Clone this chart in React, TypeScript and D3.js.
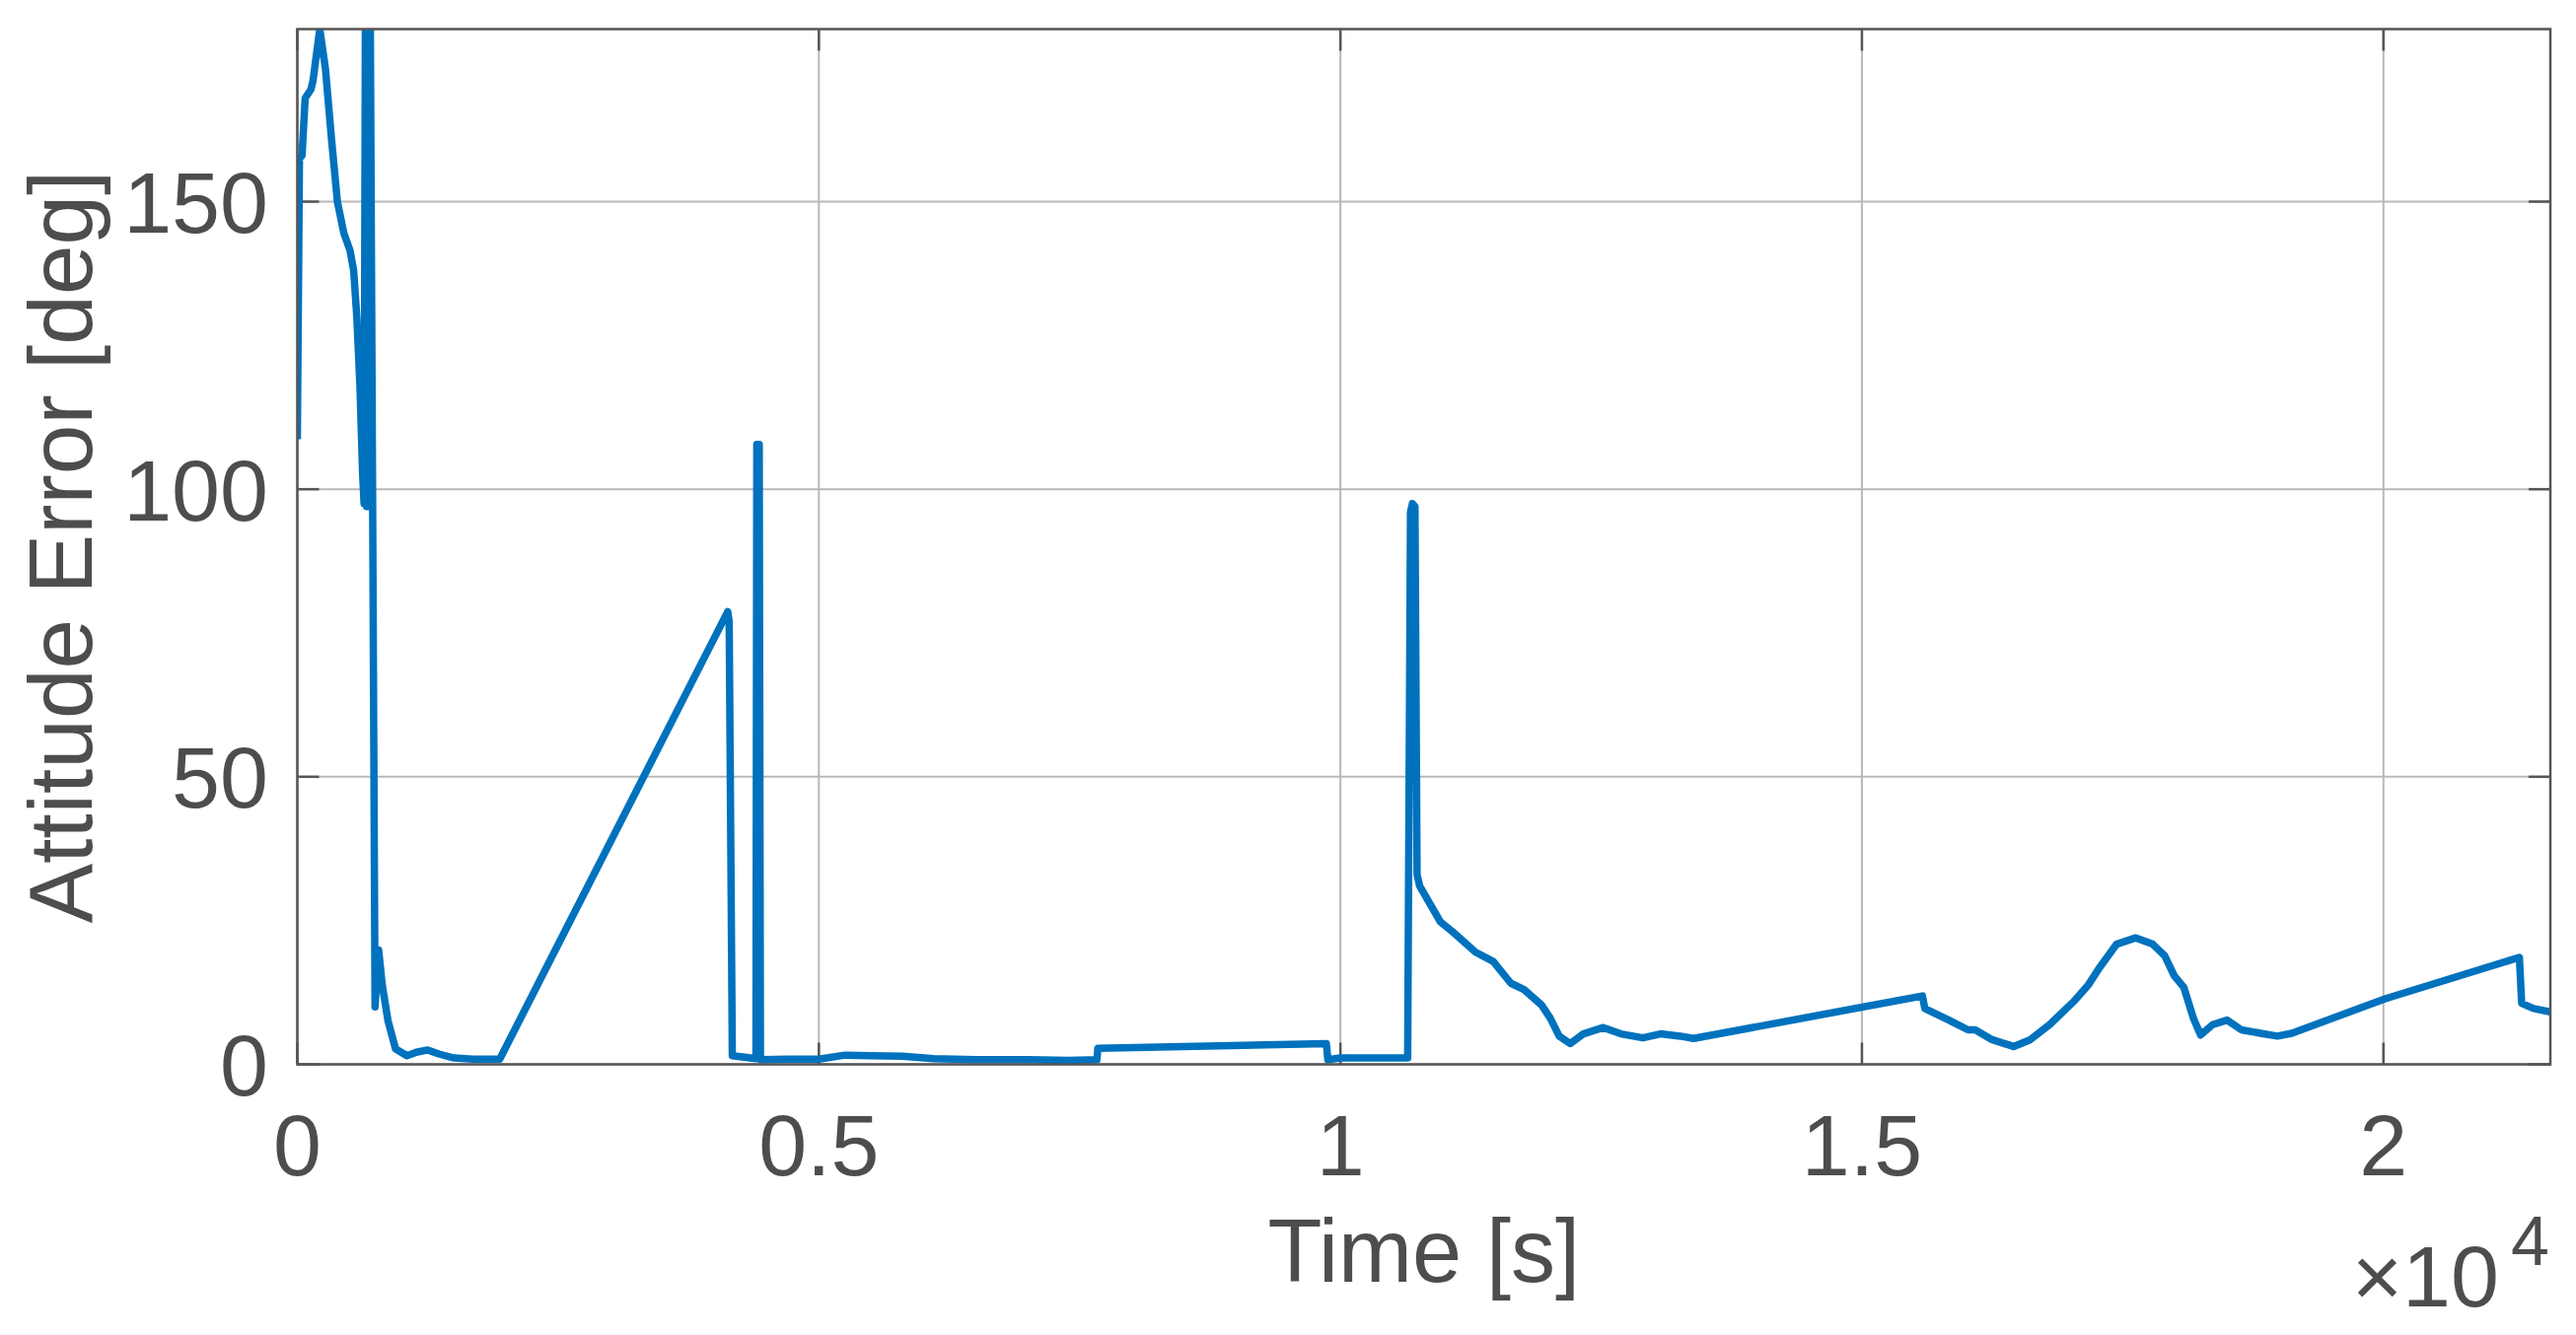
import React from "react";
import * as d3 from "d3";

// ---- data ----
const timeSec: number[] = [
  0, 20, 45, 75, 130, 150, 215, 270, 327, 384, 446, 505, 540, 570, 600, 625,
  640, 652, 664, 676, 688, 700, 745, 779, 815, 869, 941, 1050, 1140, 1250,
  1357, 1502, 1683, 1940, 4126, 4140, 4170, 4397, 4405, 4428, 4440, 4700,
  5000, 5250, 5500, 5800, 6100, 6500, 7000, 7400, 7665, 7675, 9865, 9880,
  10000, 10300, 10645, 10672, 10690, 10715, 10735, 10760, 10958, 11085, 11296,
  11465, 11634, 11760, 11929, 12013, 12098, 12203, 12330, 12520, 12689, 12900,
  13069, 13259, 13386, 15580, 15603, 15833, 16017, 16086, 16247, 16454, 16615,
  16799, 17029, 17166, 17281, 17442, 17626, 17787, 17902, 17994, 18086, 18178,
  18247, 18362, 18500, 18638, 18822, 18983, 19121, 20016, 21303, 21325, 21440,
  21600,
];
const errorDeg: number[] = [
  108.7, 157.5, 158, 168, 169.5, 171, 180, 173, 161, 150, 144.5, 141.5, 138,
  130, 118, 103, 97.5, 180, 97, 180, 97, 180, 10, 19.9, 13.7, 7.6, 2.7, 1.5,
  2.1, 2.5, 1.8, 1.1, 0.9, 0.9, 78.7, 77, 1.5, 1, 107.8, 107.8, 0.8, 0.9, 0.9,
  1.6, 1.5, 1.4, 1.0, 0.8, 0.8, 0.7, 0.8, 2.8, 3.6, 0.8, 1.1, 1.1, 1.1, 96,
  97.5, 97, 33, 31, 24.8, 22.9, 19.5, 17.9, 14.1, 13.0, 10.3, 8.0, 4.9, 3.6,
  5.3, 6.4, 5.3, 4.6, 5.3, 4.9, 4.5, 11.9, 9.7, 7.7, 6.0, 6.0, 4.3, 3.1, 4.3,
  6.9, 10.9, 13.7, 16.9, 20.9, 22.0, 20.9, 18.9, 15.4, 13.4, 8.0, 5.1, 6.9,
  7.7, 6.0, 5.4, 4.9, 5.4, 11.4, 18.6, 10.6, 9.7, 9.1,
];

const xTicks: number[] = [0, 5000, 10000, 15000, 20000];
const xTickLabels: string[] = ["0", "0.5", "1", "1.5", "2"];
const yTicks: number[] = [0, 50, 100, 150];
const yTickLabels: string[] = ["0", "50", "100", "150"];

const xLabel = "Time [s]";
const yLabel = "Attitude Error [deg]";

// ---- layout ----
const W = 2612;
const H = 1354;
const L = 301.5;
const R = 2586;
const T = 29.5;
const B = 1079.5;

const FONT = "'Liberation Sans', Arial, Helvetica, sans-serif";
const TEXT = "#4d4d4d";
const AXIS = "#555555";
const GRID = "#b8b8b8";
const LINE = "#0072BD";

export default function App() {
  const x = d3.scaleLinear().domain([0, 21600]).range([L, R]);
  const y = d3.scaleLinear().domain([0, 180]).range([B, T]);

  const pts: [number, number][] = timeSec.map((t, i) => [t, errorDeg[i]]);
  const path = d3
    .line<[number, number]>()
    .x((d) => x(d[0]))
    .y((d) => y(d[1]))(pts) as string;

  const tickLen = 22;

  return (
    <svg
      width={W}
      height={H}
      style={{ position: "fixed", left: 0, top: 0, background: "#fff" }}
      fontFamily={FONT}
    >
      <defs>
        <clipPath id="plotclip">
          <rect x={L} y={T} width={R - L} height={B - T} />
        </clipPath>
      </defs>
      <rect x={0} y={0} width={W} height={H} fill="#fff" />

      {/* grid */}
      {xTicks.map((t) => (
        <line key={"gx" + t} x1={x(t)} x2={x(t)} y1={T} y2={B} stroke={GRID} strokeWidth={2} />
      ))}
      {yTicks.map((v) => (
        <line key={"gy" + v} x1={L} x2={R} y1={y(v)} y2={y(v)} stroke={GRID} strokeWidth={2} />
      ))}

      {/* ticks (inside, all four sides) */}
      {xTicks.map((t) => (
        <g key={"tx" + t}>
          <line x1={x(t)} x2={x(t)} y1={B} y2={B - tickLen} stroke={AXIS} strokeWidth={2.5} />
          <line x1={x(t)} x2={x(t)} y1={T} y2={T + tickLen} stroke={AXIS} strokeWidth={2.5} />
        </g>
      ))}
      {yTicks.map((v) => (
        <g key={"ty" + v}>
          <line x1={L} x2={L + tickLen} y1={y(v)} y2={y(v)} stroke={AXIS} strokeWidth={2.5} />
          <line x1={R} x2={R - tickLen} y1={y(v)} y2={y(v)} stroke={AXIS} strokeWidth={2.5} />
        </g>
      ))}

      {/* data line */}
      <path
        d={path}
        fill="none"
        stroke={LINE}
        strokeWidth={7.5}
        strokeLinejoin="round"
        strokeLinecap="butt"
        clipPath="url(#plotclip)"
      />

      {/* box */}
      <rect x={L} y={T} width={R - L} height={B - T} fill="none" stroke={AXIS} strokeWidth={2.5} />

      {/* tick labels */}
      {xTicks.map((t, i) => (
        <text key={"lx" + t} x={x(t)} y={1192} textAnchor="middle" fontSize={88} fill={TEXT}>
          {xTickLabels[i]}
        </text>
      ))}
      {yTicks.map((v, i) => (
        <text key={"ly" + v} x={272} y={y(v) + 31.5} textAnchor="end" fontSize={88} fill={TEXT}>
          {yTickLabels[i]}
        </text>
      ))}

      {/* exponent */}
      <text x={2534} y={1325} textAnchor="end" fontSize={88} fill={TEXT}>
        {"×10"}
      </text>
      <text x={2546} y={1283} textAnchor="start" fontSize={70} fill={TEXT}>
        4
      </text>

      {/* axis labels */}
      <text x={(L + R) / 2} y={1300} textAnchor="middle" fontSize={90} fill={TEXT}>
        {xLabel}
      </text>
      <text
        transform={`translate(93,${(T + B) / 2}) rotate(-90)`}
        textAnchor="middle"
        fontSize={91}
        fill={TEXT}
      >
        {yLabel}
      </text>
    </svg>
  );
}
